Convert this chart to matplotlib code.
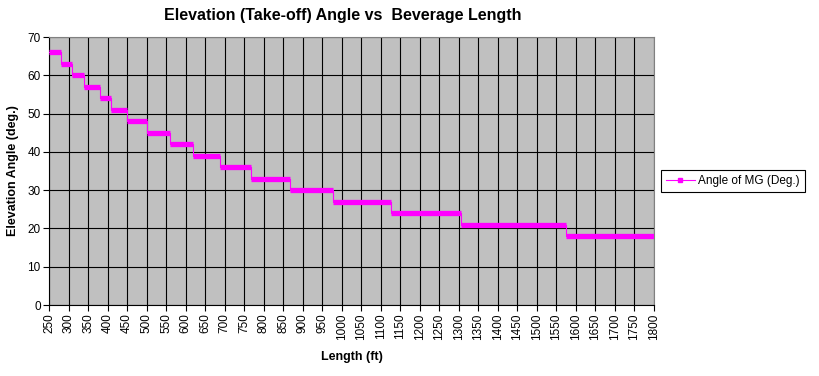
import matplotlib
matplotlib.use("Agg")
from matplotlib import pyplot as plt
from matplotlib.lines import Line2D

plt.rcParams['font.family'] = ['Liberation Sans', 'DejaVu Sans']

# step edges (ft) and angle (deg.) held on each step
step_edges = [250, 280, 310, 340, 380, 410, 450, 500, 560, 620, 688, 768, 867, 978, 1126, 1305, 1574, 1800]
angles = [66, 63, 60, 57, 54, 51, 48, 45, 42, 39, 36, 33, 30, 27, 24, 21, 18]
x_ticks = list(range(250, 1801, 50))
y_ticks = list(range(0, 71, 10))

color = '#FF00FF'

fig = plt.figure(figsize=(8.19, 3.76), dpi=100)
ax = fig.add_axes([49 / 819, 1 - 305 / 376, (654 - 49) / 819, (305 - 37) / 376])
ax.set_facecolor('#C0C0C0')

# thin connectors between steps, thick bars for the flat parts
ax.step(step_edges, angles + [angles[-1]], where='post', color=color, lw=0.8, zorder=3)
ax.hlines(angles, step_edges[:-1], step_edges[1:], color=color, lw=3.8, zorder=4,
          capstyle='butt')

ax.set_xlim(250, 1800)
ax.set_ylim(0, 70)
ax.set_xticks(x_ticks)
ax.set_yticks(y_ticks)
ax.set_xticklabels([str(t) for t in x_ticks], rotation=90, fontsize=8.5)
ax.set_yticklabels([str(t) for t in y_ticks], fontsize=8.5)
ax.tick_params(direction='out', length=4, width=0.8, color='black', pad=2)
ax.grid(True, color='black', lw=0.8)
ax.set_axisbelow(True)

for side in ['top', 'right']:
    ax.spines[side].set_color('#808080')
for side in ['left', 'bottom']:
    ax.spines[side].set_color('black')

ax.set_title('Elevation (Take-off) Angle vs  Beverage Length', fontsize=11.5,
             fontweight='bold', pad=12, x=0.485)
ax.set_xlabel('Length (ft)', fontsize=9, fontweight='bold', labelpad=8)
ax.set_ylabel('Elevation Angle (deg.)', fontsize=9, fontweight='bold', labelpad=6)

handle = Line2D([], [], color=color, lw=0.8, marker='s', markersize=3)
leg = fig.legend([handle], ['Angle of MG (Deg.)'], loc='center left',
                 bbox_to_anchor=(655 / 819, 1 - 181 / 376), fontsize=8.5,
                 fancybox=False, framealpha=1, edgecolor='black',
                 handlelength=2.4, handletextpad=0.3, borderpad=0.45)
leg.get_frame().set_linewidth(0.8)

fig.savefig('out.png', dpi=100)
